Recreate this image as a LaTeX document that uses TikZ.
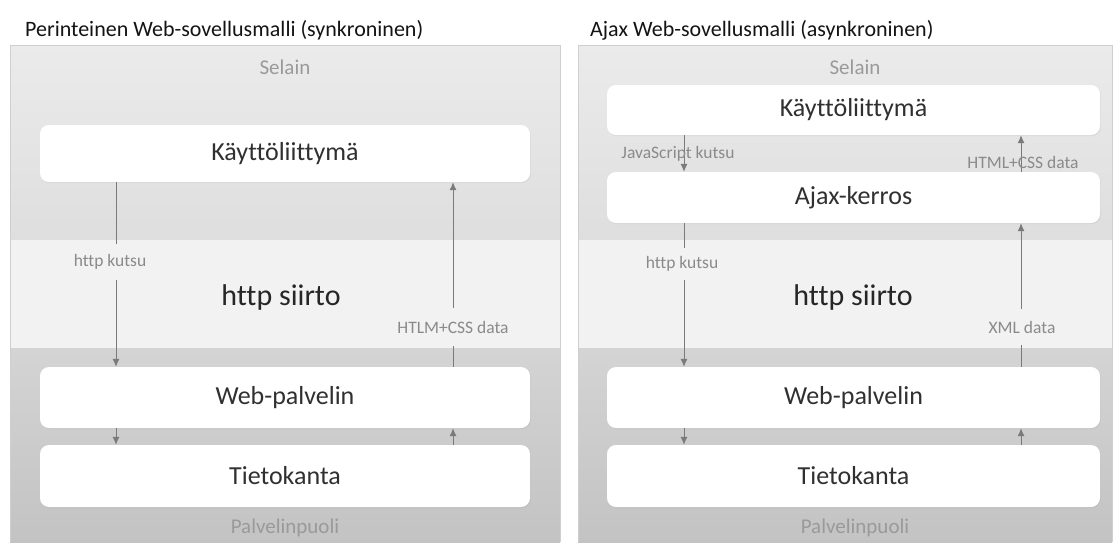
\documentclass[tikz,border=0pt]{standalone}
\usepackage{fontspec}
\setmainfont{Carlito}[Ligatures=NoCommon]
\usetikzlibrary{arrows.meta,shadows}

\definecolor{topA}{HTML}{EBEBEB}
\definecolor{topB}{HTML}{DEDEDE}
\definecolor{midband}{HTML}{F2F2F2}
\definecolor{botA}{HTML}{D4D4D4}
\definecolor{botB}{HTML}{C3C3C3}
\definecolor{edge}{HTML}{CFCFCF}
\definecolor{boxtext}{HTML}{303030}
\definecolor{zonetext}{HTML}{9A9A9A}
\definecolor{smalltext}{HTML}{8A8A8A}
\definecolor{linecol}{HTML}{7A7A7A}

\begin{document}
\begin{tikzpicture}[x=1pt,y=-1pt,
  layer/.style={rectangle, rounded corners=9pt, fill=white, inner sep=0pt,
    text=boxtext, font=\fontsize{26}{30}\selectfont,
    drop shadow={opacity=0.12, shadow xshift=0.8pt, shadow yshift=-1pt}},
  zone/.style={text=zonetext, font=\fontsize{21}{24}\selectfont, inner sep=0pt},
  transfer/.style={text=black!85, font=\fontsize{30}{34}\selectfont, inner sep=0pt},
  heading/.style={text=black!92, font=\fontsize{22}{26}\selectfont, inner sep=0pt, anchor=west},
  note/.style={text=smalltext, font=\fontsize{17.5}{20}\selectfont, inner sep=0pt},
  gap/.style={note, minimum height=#1},
  conn/.style={draw=linecol, line width=1pt},
  flow/.style={conn, -{Latex[length=8pt,width=7pt]}}]

\useasboundingbox (0,0) rectangle (1115,542);
\fill[white] (0,0) rectangle (1115,542);

% ---------- left panel: traditional model ----------
\shade[top color=topA, bottom color=topB] (10,45) rectangle (560,240);
\fill[midband] (10,240) rectangle (560,348);
\shade[top color=botA, bottom color=botB] (10,348) rectangle (560,542);
\draw[edge, line width=1pt] (10,542) -- (10,45) -- (560,45) -- (560,542);

\node[heading] (t1) at (25,30) {Perinteinen Web-sovellusmalli (synkroninen)};
\node[zone] (s1) at (285,67) {Selain};
\node[zone] (p1) at (285,528) {Palvelinpuoli};
\node[transfer] (h1) at (281,297) {http siirto};

\node[layer, minimum width=490pt, minimum height=57pt] (ui1) at (285,153.5) {Käyttöliittymä};
\node[layer, minimum width=490pt, minimum height=61pt] (web1) at (285,397.5) {Web-palvelin};
\node[layer, minimum width=490pt, minimum height=62pt] (db1) at (285,476) {Tietokanta};

\coordinate (L1) at (116,0);
\coordinate (R1) at (453,0);

\node[gap=36pt] (k1) at (110,262) {http kutsu};
\node[gap=37pt] (d1) at (453,327) {HTLM+CSS data};

\draw[conn] (ui1.south -| L1) -- (k1.north -| L1);
\draw[flow] (k1.south -| L1) -- (web1.north -| L1);
\draw[conn] (web1.north -| R1) -- (d1.south -| R1);
\draw[flow] (d1.north -| R1) -- (ui1.south -| R1);
\draw[flow] (web1.south -| L1) -- (db1.north -| L1);
\draw[flow] (db1.north -| R1) -- (web1.south -| R1);

% ---------- right panel: Ajax model ----------
\shade[top color=topA, bottom color=topB] (578,45) rectangle (1112,240);
\fill[midband] (578,240) rectangle (1112,348);
\shade[top color=botA, bottom color=botB] (578,348) rectangle (1112,542);
\draw[edge, line width=1pt] (578,542) -- (578,45) -- (1112,45) -- (1112,542);

\node[heading] (t2) at (590,30) {Ajax Web-sovellusmalli (asynkroninen)};
\node[zone] (s2) at (855,67) {Selain};
\node[zone] (p2) at (855,528) {Palvelinpuoli};
\node[transfer] (h2) at (853,297) {http siirto};

\node[layer, minimum width=493pt, minimum height=50pt] (ui2) at (853.5,110) {Käyttöliittymä};
\node[layer, minimum width=493pt, minimum height=51pt] (ajax2) at (853.5,197.5) {Ajax-kerros};
\node[layer, minimum width=493pt, minimum height=61pt] (web2) at (853.5,397.5) {Web-palvelin};
\node[layer, minimum width=493pt, minimum height=62pt] (db2) at (853.5,476) {Tietokanta};

\coordinate (L2) at (684,0);
\coordinate (R2) at (1021,0);

\draw[flow] (ui2.south -| L2) -- (ajax2.north -| L2);
\draw[flow] (ajax2.north -| R2) -- (ui2.south -| R2);
\node[note] (j2) at (678,154) {JavaScript kutsu};
\node[note] (c2) at (1023,162) {HTML+CSS data};

\node[gap=32pt] (k2) at (682,264) {http kutsu};
\node[gap=36pt] (x2) at (1022,327) {XML data};

\draw[conn] (ajax2.south -| L2) -- (k2.north -| L2);
\draw[flow] (k2.south -| L2) -- (web2.north -| L2);
\draw[conn] (web2.north -| R2) -- (x2.south -| R2);
\draw[flow] (x2.north -| R2) -- (ajax2.south -| R2);
\draw[flow] (web2.south -| L2) -- (db2.north -| L2);
\draw[flow] (db2.north -| R2) -- (web2.south -| R2);

\end{tikzpicture}
\end{document}
